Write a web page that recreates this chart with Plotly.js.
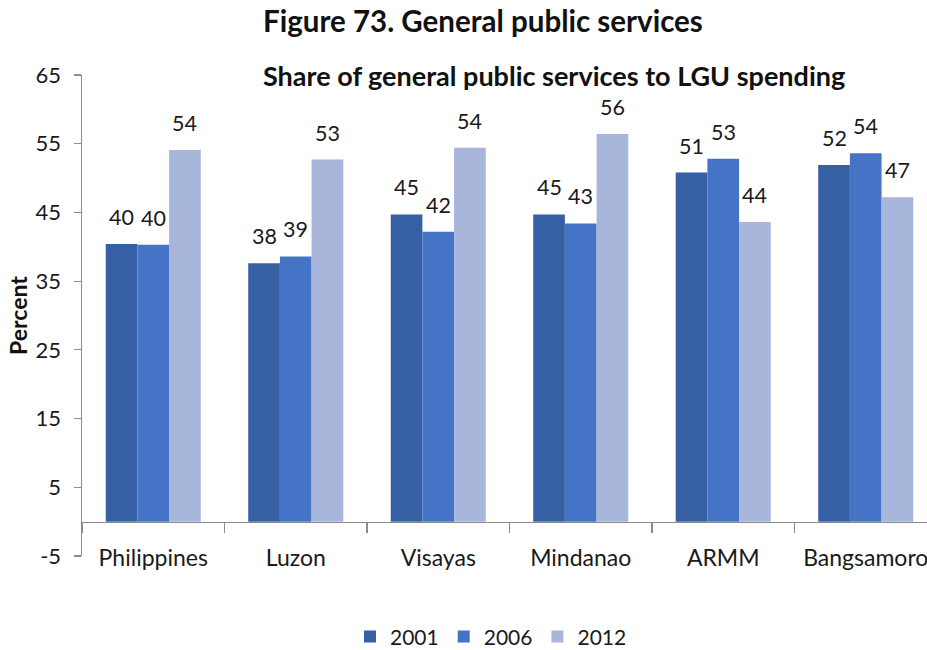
<!DOCTYPE html>
<html>
<head>
<meta charset="utf-8">
<script src="https://cdn.plot.ly/plotly-3.0.1.min.js"></script>
<style>
  html, body { margin: 0; padding: 0; background: #ffffff; }
  #chart { width: 927px; height: 650px; }
</style>
</head>
<body>
<div id="chart"></div>
<script>
// Regions shown along the category axis
const regions = ['Philippines', 'Luzon', 'Visayas', 'Mindanao', 'ARMM', 'Bangsamoro'];

// Share of general public services in LGU spending (percent)
const share2001 = [40.4, 37.6, 44.7, 44.7, 50.8, 51.9];
const share2006 = [40.3, 38.6, 42.2, 43.4, 52.8, 53.6];
const share2012 = [54.1, 52.7, 54.4, 56.4, 43.6, 47.2];

const seriesNames = ['2001', '2006', '2012'];
const yTicks = [-5, 5, 15, 25, 35, 45, 55, 65];

const FONT = 'Lato, "Open Sans", sans-serif';
const AXIS_GREY = '#8c8c8c';
const TEXT = '#1a1a1a';
const colors = ['#375fa4', '#4573c5', '#a8b6db'];
const allSeries = [share2001, share2006, share2012];

const yMin = -5, yMax = 65;
const barGap = 0.333;
const barWidthUnits = (1 - barGap) / allSeries.length;

const traces = allSeries.map((vals, i) => ({
  type: 'bar',
  name: seriesNames[i],
  x: regions,
  y: vals,
  marker: { color: colors[i], line: { width: 0 } },
  hoverinfo: 'x+y+name'
}));

// Value labels sitting above each bar, rounded to whole percent
const labels = [];
allSeries.forEach((vals, i) => {
  vals.forEach((v, j) => {
    labels.push({
      xref: 'x', yref: 'y',
      x: j + (i - 1) * barWidthUnits,
      y: v,
      text: String(Math.round(v)),
      showarrow: false,
      xanchor: 'center', yanchor: 'middle',
      yshift: 27,
      font: { family: FONT, size: 21.5, color: TEXT }
    });
  });
});

labels.push({
  xref: 'paper', yref: 'paper',
  x: 0.5586, y: 0.998,
  xanchor: 'center', yanchor: 'middle',
  showarrow: false,
  text: '<b>Share of general public services to LGU spending</b>',
  font: { family: FONT, size: 27, color: '#111111' }
});

const layout = {
  width: 927,
  height: 650,
  margin: { l: 82, r: 0, t: 75, b: 94, autoexpand: false },
  paper_bgcolor: '#ffffff',
  plot_bgcolor: '#ffffff',
  barmode: 'group',
  bargap: barGap,
  bargroupgap: 0,
  showlegend: true,
  font: { family: FONT, color: TEXT },
  title: {
    text: '<b>Figure 73. General public services</b>',
    x: 0.521, xanchor: 'center',
    y: 0.966, yanchor: 'middle',
    xref: 'container', yref: 'container',
    font: { family: FONT, size: 29.5, color: '#111111' }
  },
  xaxis: {
    type: 'category',
    range: [-0.5, 5.43],
    anchor: 'free',
    position: (0 - yMin) / (yMax - yMin),
    showline: true,
    linecolor: AXIS_GREY,
    linewidth: 1.5,
    ticks: 'outside',
    ticklen: 10,
    tickwidth: 1.2,
    tickcolor: AXIS_GREY,
    tickson: 'boundaries',
    ticklabelstandoff: 15,
    showgrid: false,
    zeroline: false,
    tickfont: { family: FONT, size: 23, color: TEXT },
    fixedrange: true
  },
  yaxis: {
    range: [yMin, yMax],
    tickmode: 'array',
    tickvals: yTicks,
    ticktext: yTicks.map(String),
    showline: true,
    linecolor: AXIS_GREY,
    linewidth: 1.5,
    ticks: 'outside',
    ticklen: 7,
    tickwidth: 1.2,
    tickcolor: AXIS_GREY,
    ticklabelstandoff: 8,
    showgrid: false,
    zeroline: false,
    tickfont: { family: FONT, size: 22, color: TEXT },
    title: {
      text: '<b>Percent</b>',
      standoff: 1,
      font: { family: FONT, size: 23, color: '#111111' }
    },
    fixedrange: true
  },
  legend: {
    orientation: 'h',
    x: 0.484, xanchor: 'center',
    y: -0.168, yanchor: 'middle',
    xref: 'paper', yref: 'paper',
    font: { family: FONT, size: 21, color: TEXT },
    itemwidth: 30,
    traceorder: 'normal',
    bgcolor: 'rgba(0,0,0,0)'
  },
  annotations: labels
};

Plotly.newPlot('chart', traces, layout, { displayModeBar: false, staticPlot: true });
</script>
</body>
</html>
